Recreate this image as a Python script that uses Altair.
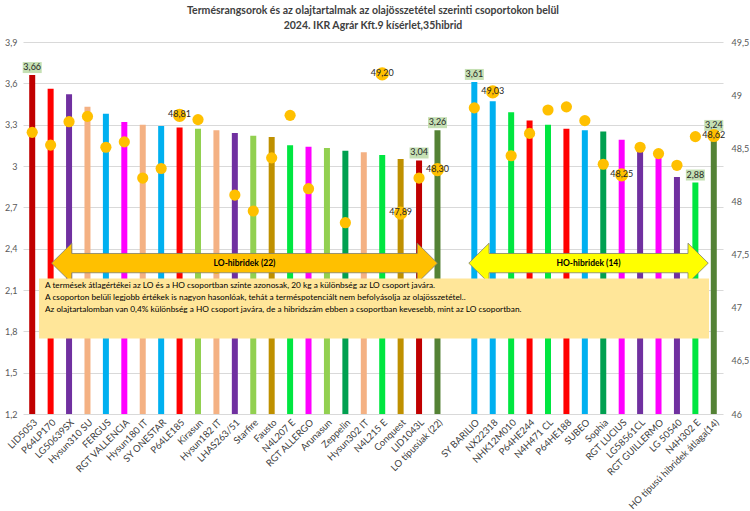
import altair as alt
import pandas as pd

FONT = "Lato"

# ---------------- data ----------------
hybrids = [
    "LID5053", "P64LP170", "LG50639SX", "Hysun310 SU", "FERGUS", "RGT VALLENCIA",
    "Hysun180 IT", "SY ONESTAR", "P64LE185", "Kirasun", "Hysun182 IT", "LHAS263/51",
    "Starfire", "Fausto", "N4L207 E", "RGT ALLERGO", "Arunasun", "Zeppelin",
    "Hysun302 IT", "N4L215 E", "Conquest", "LID1043L", "LO típusúak (22)",
    " ",
    "SY BARILIO", "NX22318", "NHK12M010", "P64HE244", "N4H471 CL", "P64HE188",
    "SUBEO", "Sophia", "RGT LUCIUS", "LG58561CL", "RGT GUILLERMO", "LG 50540",
    "N4H302 E", "HO típusú hibridek átlaga(14)",
]

yield_t = [
    3.66, 3.56, 3.52, 3.43, 3.38, 3.32,
    3.30, 3.29, 3.28, 3.27, 3.26, 3.24,
    3.22, 3.21, 3.15, 3.14, 3.13, 3.11,
    3.10, 3.08, 3.05, 3.04, 3.26,
    None,
    3.61, 3.47, 3.39, 3.33, 3.30, 3.27,
    3.26, 3.25, 3.19, 3.13, 3.06, 2.92,
    2.88, 3.24,
]

oil_pct = [
    48.65, 48.53, 48.75, 48.80, 48.51, 48.56,
    48.22, 48.31, 48.81, 48.77, 47.37, 48.06,
    47.91, 48.41, 48.81, 48.12, 47.45, 47.80,
    47.45, 49.20, 47.89, 48.22, 48.30,
    None,
    48.88, 49.03, 48.43, 48.64, 48.86, 48.89,
    48.76, 48.35, 48.25, 48.51, 48.45, 48.34,
    48.61, 48.62,
]

bar_colors = [
    "#C00000", "#FF0000", "#7030A0", "#F4B183", "#00B0F0", "#FF00FF",
    "#F4B183", "#00B0F0", "#FF0000", "#92D050", "#F4B183", "#7030A0",
    "#92D050", "#BF9000", "#00E640", "#FF00FF", "#92D050", "#00A050",
    "#F4B183", "#00E640", "#BF9000", "#C00000", "#548235",
    "#FFFFFF",
    "#00B0F0", "#00B0F0", "#00E640", "#FF0000", "#00E640", "#FF0000",
    "#00B0F0", "#00A050", "#FF00FF", "#7030A0", "#FF00FF", "#7030A0",
    "#00E640", "#548235",
]

yield_labeled = ["LID5053", "LID1043L", "LO típusúak (22)", "SY BARILIO", "N4H302 E",
                 "HO típusú hibridek átlaga(14)"]
oil_labeled = ["P64LE185", "N4L215 E", "Conquest", "LO típusúak (22)", "NX22318",
               "RGT LUCIUS", "HO típusú hibridek átlaga(14)"]

left_ticks = [1.2, 1.5, 1.8, 2.1, 2.4, 2.7, 3.0, 3.3, 3.6, 3.9]
right_ticks = [46, 46.5, 47, 47.5, 48, 48.5, 49, 49.5]

title_lines = [
    "Termésrangsorok és az olajtartalmak az olajösszetétel  szerinti csoportokon belül",
    "2024. IKR Agrár Kft.9 kísérlet,35hibrid",
]
note_lines = [
    "A termések átlagértékei az LO és a HO csoportban szinte azonosak, 20 kg a különbség az LO csoport javára.",
    "A csoporton belüli legjobb értékek is nagyon hasonlóak, tehát a terméspotenciált nem befolyásolja az olajösszetétel..",
    " Az olajtartalomban van 0,4% különbség a HO csoport javára, de a hibridszám ebben a csoportban  kevesebb, mint az LO csoportban.",
]
arrow_texts = ["LO-hibridek  (22)", "HO-hibridek  (14)"]


def hu(v):
    return f"{v:.2f}".replace(".", ",")


df = pd.DataFrame({"hybrid": hybrids, "yield": yield_t, "oil": oil_pct, "color": bar_colors})
df["yl"] = [hu(v) if h in yield_labeled else "" for h, v in zip(hybrids, yield_t)]
df["ol"] = [hu(v) if h in oil_labeled and v is not None else "" for h, v in zip(hybrids, oil_pct)]
df_plot = df[df["yield"].notna()].copy()
df_olab = df[df["ol"] != ""][["hybrid", "oil", "ol"]].copy()

# ---------------- scales / encodings ----------------
xscale = alt.Scale(domain=hybrids, paddingInner=0, paddingOuter=0)
X = alt.X(
    "hybrid:N", sort=hybrids, scale=xscale,
    axis=alt.Axis(title=None, labelAngle=-45, labelFontSize=9.5, labelColor="#404040",
                  labelFont=FONT, ticks=False, domain=False, labelPadding=3, labelLimit=220),
)
Xn = alt.X("hybrid:N", sort=hybrids, scale=xscale, axis=None)

comma = "replace(toString(datum.value), '.', ',')"
lscale = alt.Scale(domain=[1.2, 3.9], nice=False, zero=False)
rscale = alt.Scale(domain=[46, 49.5], nice=False, zero=False)
YL = alt.Y(
    "yield:Q", scale=lscale,
    axis=alt.Axis(values=left_ticks, labelExpr=comma, title=None, grid=True, gridColor="#d9d9d9",
                  domain=False, ticks=False, labelFontSize=9, labelColor="#595959",
                  labelFont=FONT, labelPadding=6),
)
YLn = alt.Y("yield:Q", scale=lscale, axis=None)
YR = alt.Y(
    "oil:Q", scale=rscale,
    axis=alt.Axis(orient="right", values=right_ticks, labelExpr=comma, title=None, grid=False,
                  domain=False, ticks=False, labelFontSize=9, labelColor="#595959",
                  labelFont=FONT, labelPadding=8),
)
YRn = alt.Y("oil:Q", scale=rscale, axis=None)

base = alt.Chart(df_plot)

bars = base.mark_bar(size=6).encode(
    x=X, y=YL, y2=alt.datum(1.2), color=alt.Color("color:N", scale=None)
)
ylab_bg = base.transform_filter("datum.yl != ''").mark_bar(
    size=19, color="#C5E0B4", yOffset=-13, y2Offset=-2
).encode(x=Xn, y=YLn, y2="yield:Q")
ylab_txt = base.transform_filter("datum.yl != ''").mark_text(
    fontSize=9, font=FONT, color="#262626", dy=-8, baseline="middle"
).encode(x=Xn, y=YLn, text="yl:N")

dots = base.mark_circle(size=125, color="#FFC000", opacity=1).encode(x=Xn, y=YR)
# labelled dots drawn once more directly beneath their labels
lab_dots = alt.Chart(df_olab).mark_point(
    shape="circle", size=125, filled=True, fill="#FFC000", stroke="#FFC000", opacity=1
).encode(x=Xn, y=YRn)
oil_txt = alt.Chart(df_olab).mark_text(
    fontSize=9, font=FONT, color="#262626", baseline="middle", dy=-1
).encode(x=Xn, y=YRn, text="ol:N")

# ---------------- annotations (slot units on x, left-axis units on y) ----------------
XQ = alt.X("sx:Q", scale=alt.Scale(domain=[0, 38], nice=False, zero=False), axis=None)
YQ = alt.Y("sy:Q", scale=lscale, axis=None)

HEAD_TOP, BODY_TOP, MID, BODY_BOT, HEAD_BOT = 2.44, 2.365, 2.295, 2.225, 2.15
HEAD = 1.1


def arrow_df(x0, x1):
    e = 0.001
    rows = [
        (x0, MID, MID),
        (x0 + HEAD, HEAD_TOP, HEAD_BOT),
        (x0 + HEAD + e, BODY_TOP, BODY_BOT),
        (x1 - HEAD - e, BODY_TOP, BODY_BOT),
        (x1 - HEAD, HEAD_TOP, HEAD_BOT),
        (x1, MID, MID),
    ]
    return pd.DataFrame(rows, columns=["sx", "sy", "sy2"])


lo_arrow = alt.Chart(arrow_df(1.55, 22.5)).mark_area(
    fill="#FFC000", stroke="#7F7F6F", strokeWidth=0.8, fillOpacity=1, opacity=1
).encode(x=XQ, y=YQ, y2="sy2:Q")
ho_arrow = alt.Chart(arrow_df(24.2, 37.2)).mark_area(
    fill="#FFFF00", stroke="#7F7F6F", strokeWidth=0.8, fillOpacity=1, opacity=1
).encode(x=XQ, y=YQ, y2="sy2:Q")

arrow_lab = alt.Chart(pd.DataFrame({
    "sx": [(1.55 + 22.5) / 2, (24.2 + 37.2) / 2], "sy": [MID, MID], "t": arrow_texts
})).mark_text(fontSize=8.5, font=FONT, fontWeight="bold", color="black",
              baseline="middle").encode(x=XQ, y=YQ, text="t:N")

box = alt.Chart(pd.DataFrame({"sx": [0.87], "sx2": [37.24], "sy": [2.184], "sy2": [1.748]})).mark_rect(
    fill="#FFE699"
).encode(x=XQ, x2="sx2:Q", y=YQ, y2="sy2:Q")

note = alt.Chart(pd.DataFrame({
    "sx": [1.19] * len(note_lines),
    "sy": [2.128 - i * 0.086 for i in range(len(note_lines))],
    "t": note_lines,
})).mark_text(fontSize=8.3, font=FONT, color="black", align="left", baseline="middle").encode(
    x=XQ, y=YQ, text="t:N"
)

chart = alt.layer(
    bars, ylab_bg, ylab_txt, dots, lab_dots, oil_txt, lo_arrow, ho_arrow, arrow_lab, box, note
).resolve_scale(x="independent", y="independent").properties(
    width=700, height=372,
    autosize=alt.AutoSizeParams(type="none"),
    padding={"left": 23, "top": 42, "right": 27, "bottom": 97},
    background="white",
    title=alt.TitleParams(text=title_lines, font=FONT, fontSize=10.5, fontWeight="bold",
                          color="#404040", anchor="middle", offset=7, lineHeight=15),
).configure_view(stroke=None)

chart.save("out.html", embed_options={"renderer": "svg", "actions": False})
